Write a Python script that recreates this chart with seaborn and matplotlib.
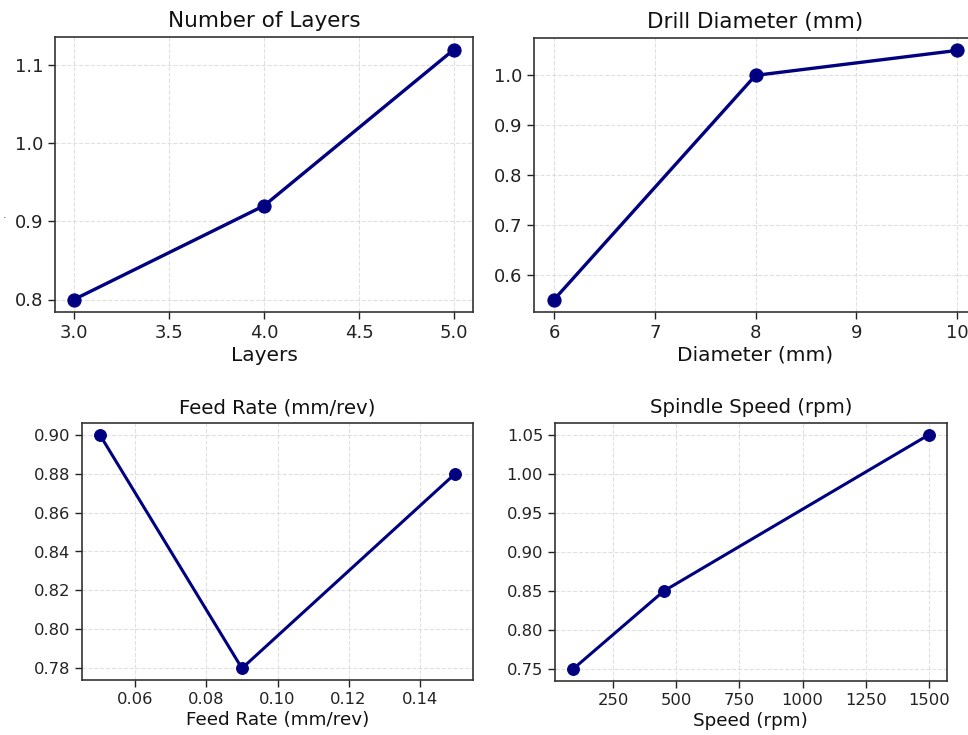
import matplotlib
matplotlib.use("Agg")
import matplotlib.pyplot as plt
import seaborn as sns
import pandas as pd

# Data
layers_x = [3, 4, 5]
layers_y = [0.80, 0.92, 1.12]
diam_x = [6, 8, 10]
diam_y = [0.55, 1.00, 1.05]
feed_x = [0.05, 0.09, 0.15]
feed_y = [0.90, 0.78, 0.88]
speed_x = [90, 450, 1500]
speed_y = [0.75, 0.85, 1.05]

titles = ["Number of Layers", "Drill Diameter (mm)", "Feed Rate (mm/rev)", "Spindle Speed (rpm)"]
xlabels = ["Layers", "Diameter (mm)", "Feed Rate (mm/rev)", "Speed (rpm)"]

# Tick labels
layers_xticks = [3.0, 3.5, 4.0, 4.5, 5.0]
layers_yticks = [0.8, 0.9, 1.0, 1.1]
diam_xticks = [6, 7, 8, 9, 10]
diam_yticks = [0.6, 0.7, 0.8, 0.9, 1.0]
feed_xticks = [0.06, 0.08, 0.10, 0.12, 0.14]
feed_yticks = [0.78, 0.80, 0.82, 0.84, 0.86, 0.88, 0.90]
speed_xticks = [250, 500, 750, 1000, 1250, 1500]
speed_yticks = [0.75, 0.80, 0.85, 0.90, 0.95, 1.00, 1.05]

sns.set_style("ticks")
plt.rcParams['font.family'] = ['DejaVu Sans']

W, H = 968, 735
fig = plt.figure(figsize=(W / 100, H / 100), dpi=100)

def box(l, r, t, b):
    return [l / W, (H - b) / H, (r - l) / W, (b - t) / H]

rects = [box(55, 473, 37, 312), box(534, 977, 38, 312),
         box(82, 473, 423, 680), box(555, 946.7, 423, 681)]
datasets = [(layers_x, layers_y), (diam_x, diam_y), (feed_x, feed_y), (speed_x, speed_y)]
ticks = [(layers_xticks, layers_yticks, "{:.1f}", "{:.1f}"),
         (diam_xticks, diam_yticks, "{:d}", "{:.1f}"),
         (feed_xticks, feed_yticks, "{:.2f}", "{:.2f}"),
         (speed_xticks, speed_yticks, "{:d}", "{:.2f}")]
title_sizes = [15.5, 15.5, 14.2, 14.2]
label_sizes = [14.5, 14.5, 13.2, 13.2]
tick_sizes = [13, 13, 11.8, 11.8]
msizes = [9.5, 9.5, 8.5, 8.5]
lws = [2.4, 2.4, 2.2, 2.2]

for i, (rect, (xs, ys)) in enumerate(zip(rects, datasets)):
    ax = fig.add_axes(rect)
    df = pd.DataFrame({"x": xs, "y": ys})
    sns.lineplot(data=df, x="x", y="y", ax=ax, color="navy", marker="o",
                 markersize=msizes[i], linewidth=lws[i], markeredgecolor="navy")
    xt, yt, fx, fy = ticks[i]
    ax.set_xticks(xt)
    ax.set_xticklabels([fx.format(v) for v in xt])
    ax.set_yticks(yt)
    ax.set_yticklabels([fy.format(v) for v in yt])
    ax.set_title(titles[i], fontsize=title_sizes[i], color="#111111", pad=7)
    ax.set_xlabel(xlabels[i], fontsize=label_sizes[i], color="#111111", labelpad=3)
    ax.set_ylabel("")
    ax.grid(True, linestyle="--", color="#cccccc", alpha=0.6, linewidth=0.8)
    ax.tick_params(labelsize=tick_sizes[i], colors="#222222", length=5, width=1)
    for s in ax.spines.values():
        s.set_color("#333333")
        s.set_linewidth(1.2)
        s.set_visible(True)

fig.text(5 / W, 1 - 215 / H, ".", fontsize=8, color="#333333", ha="center", va="center")

fig.savefig("out.png", dpi=100)
